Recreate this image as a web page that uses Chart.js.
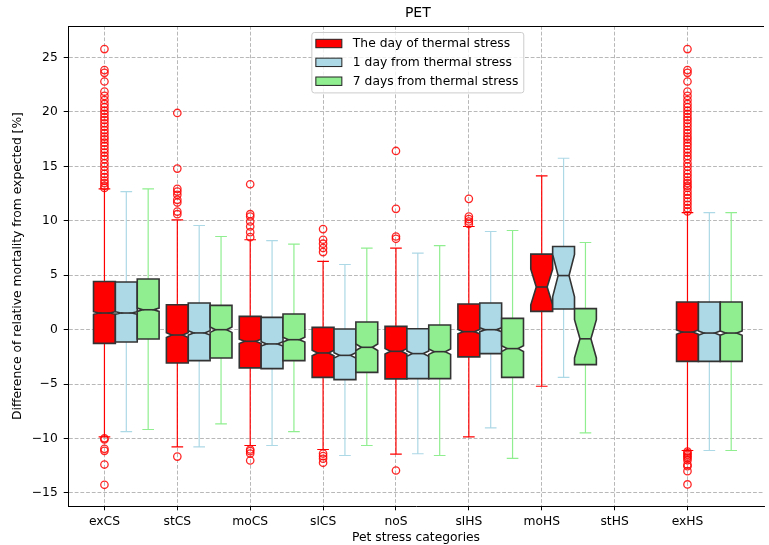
<!DOCTYPE html>
<html>
<head>
<meta charset="utf-8">
<script src="https://cdn.jsdelivr.net/npm/chart.js@4.4.0/dist/chart.umd.min.js"></script>
<style>
  html, body { margin: 0; padding: 0; background: #ffffff; }
  #wrap { width: 769px; height: 545px; }
</style>
</head>
<body>
<div id="wrap"><canvas id="chart" width="769" height="545"></canvas></div>
<script>
// ---- categories, series and tick labels ----
const categories = ['exCS', 'stCS', 'moCS', 'slCS', 'noS', 'slHS', 'moHS', 'stHS', 'exHS'];
const seriesLabels = ['The day of thermal stress', '1 day from thermal stress', '7 days from thermal stress'];
const seriesColors = ['#ff0000', '#add8e6', '#90ee90'];
const seriesOffsets = [0, 0.3, 0.6];
const yTickValues = [-15, -10, -5, 0, 5, 10, 15, 20, 25];

// ---- box statistics: the day of thermal stress ----
const dayQ1    = [-1.26, -3.06, -3.51, -4.38, -4.52, -2.50, 1.68, null, -2.91];
const dayMed   = [ 1.53, -0.49, -1.07, -2.14, -1.99, -0.18, 3.92, null, -0.22];
const dayQ3    = [ 4.43,  2.29,  1.22,  0.21,  0.30,  2.36, 6.94, null,  2.54];
const dayLow   = [-9.84, -10.76, -10.64, -11.01, -11.44, -9.84, -5.20, null, -11.10];
const dayHigh  = [12.94, 10.09,  8.26,  6.28,  7.50,  9.48, 14.13, null, 10.76];
const dayNotch = [ 0.12,  0.22,  0.20,  0.25,  0.25,  0.20, 1.64, null,  0.20];

// ---- box statistics: 1 day from thermal stress ----
const oneDayQ1    = [-1.13, -2.84, -3.58, -4.59, -4.50, -2.20, 1.90, null, -2.91];
const oneDayMed   = [ 1.53, -0.30, -1.31, -2.36, -2.20,  0.00, 4.97, null, -0.31];
const oneDayQ3    = [ 4.38,  2.45,  1.13,  0.06,  0.09,  2.45, 7.64, null,  2.54];
const oneDayLow   = [-9.36, -10.76, -10.64, -11.56, -11.40, -9.02, -4.38, null, -11.10];
const oneDayHigh  = [12.69,  9.57,  8.19,  5.99,  7.04,  9.02, 15.75, null, 10.76];
const oneDayNotch = [ 0.12,  0.20,  0.20,  0.25,  0.25,  0.18, 1.95, null,  0.20];

// ---- box statistics: 7 days from thermal stress ----
const sevenDayQ1    = [-0.85, -2.60, -2.84, -3.92, -4.50, -4.38, -3.21, null, -2.91];
const sevenDayMed   = [ 1.83,  0.00, -0.92, -1.62, -2.02, -1.74, -0.84, null, -0.31];
const sevenDayQ3    = [ 4.65,  2.23,  1.44,  0.71,  0.43,  1.04,  1.93, null,  2.54];
const sevenDayLow   = [-9.17, -8.65, -9.36, -10.64, -11.56, -11.83, -9.48, null, -11.10];
const sevenDayHigh  = [12.94,  8.56,  7.86,  7.50,  7.73,  9.11,  8.01, null, 10.76];
const sevenDayNotch = [ 0.15,  0.25,  0.22,  0.30,  0.25,  0.27,  1.76, null,  0.20];

// ---- outliers of the day-of-stress series, one list per category ----
const fliersExCS = [25.78, 23.85, 23.60, 22.80, 21.87, 21.48, 21.10, 20.74, 20.43, 20.12, 19.82, 19.52,
  19.26, 18.96, 18.66, 18.34, 18.05, 17.74, 17.49, 17.18, 16.88, 16.57, 16.27, 15.96, 15.66, 15.29,
  14.98, 14.62, 14.31, 14.01, 13.70, 13.46, 13.21, 13.02, -9.98, -10.09, -10.95, -11.13, -12.39, -14.25];
const fliersStCS = [19.91, 14.80, 12.94, 12.69, 12.39, 11.93, 11.68, 10.85, 10.61, -11.66];
const fliersMoCS = [13.36, 10.61, 10.40, 9.94, 9.48, 8.96, 8.50, -11.01, -11.16, -11.38, -12.02];
const fliersSlCS = [9.24, 8.26, 7.90, 7.50, 7.13, -11.38, -11.62, -11.86, -12.23];
const fliersNoS  = [16.42, 11.10, 8.56, 8.35, -12.94];
const fliersSlHS = [12.02, 10.40, 10.16, 9.94, 9.72];
const fliersMoHS = [];
const fliersStHS = [];
const fliersExHS = [25.78, 23.85, 23.60, 22.80, 21.87, 21.48, 21.10, 20.74, 20.43, 20.12, 19.82, 19.52,
  19.26, 18.96, 18.66, 18.34, 18.05, 17.74, 17.49, 17.18, 16.88, 16.57, 16.27, 15.96, 15.66, 15.29,
  14.98, 14.62, 14.31, 14.01, 13.70, 13.46, 13.21, 13.02, 12.69, 12.39, 12.08, 11.77, 11.47, 11.16, 10.86,
  -11.20, -11.35, -11.50, -11.65, -11.80, -12.00, -12.40, -12.55, -13.00, -14.22];
const fliersByCategory = [fliersExCS, fliersStCS, fliersMoCS, fliersSlCS, fliersNoS, fliersSlHS, fliersMoHS, fliersStHS, fliersExHS];

// ---- drawing setup ----
const FONT = '"DejaVu Sans", "Liberation Sans", sans-serif';
const FONT_SIZE = 12.3;
const BOX_WIDTH = 0.3;
const CAP_WIDTH = 0.16;
const X_MIN = 0.5, X_MAX = 10.05, X_AXES_END = 10.1;
const Y_MIN = -16.2, Y_MAX = 27.9;

const boxSeries = [
  { q1: dayQ1, med: dayMed, q3: dayQ3, lo: dayLow, hi: dayHigh, notch: dayNotch },
  { q1: oneDayQ1, med: oneDayMed, q3: oneDayQ3, lo: oneDayLow, hi: oneDayHigh, notch: oneDayNotch },
  { q1: sevenDayQ1, med: sevenDayMed, q3: sevenDayQ3, lo: sevenDayLow, hi: sevenDayHigh, notch: sevenDayNotch }
];

const flierPoints = [];
fliersByCategory.forEach((list, i) => list.forEach(v => flierPoints.push({ x: i + 1 + seriesOffsets[0], y: v })));

// Notched boxes, whiskers and caps, drawn through the chart's scales
const notchedBoxes = {
  id: 'notchedBoxes',
  beforeDatasetsDraw(chart) {
    const { ctx, chartArea: a } = chart;
    const xs = chart.scales.x, ys = chart.scales.y;
    ctx.save();
    ctx.beginPath();
    ctx.rect(a.left, a.top, a.right - a.left, a.bottom - a.top);
    ctx.clip();
    boxSeries.forEach((s, si) => {
      const color = seriesColors[si];
      categories.forEach((cat, i) => {
        if (s.q1[i] == null) return;
        const pos = i + 1 + seriesOffsets[si];
        const cx = xs.getPixelForValue(pos);
        const left = xs.getPixelForValue(pos - BOX_WIDTH / 2);
        const right = xs.getPixelForValue(pos + BOX_WIDTH / 2);
        const inL = xs.getPixelForValue(pos - BOX_WIDTH / 4);
        const inR = xs.getPixelForValue(pos + BOX_WIDTH / 4);
        const capL = xs.getPixelForValue(pos - CAP_WIDTH / 2);
        const capR = xs.getPixelForValue(pos + CAP_WIDTH / 2);
        const yQ1 = ys.getPixelForValue(s.q1[i]);
        const yQ3 = ys.getPixelForValue(s.q3[i]);
        const yMed = ys.getPixelForValue(s.med[i]);
        const yNLo = ys.getPixelForValue(s.med[i] - s.notch[i]);
        const yNHi = ys.getPixelForValue(s.med[i] + s.notch[i]);
        const yLo = ys.getPixelForValue(s.lo[i]);
        const yHi = ys.getPixelForValue(s.hi[i]);

        // whiskers and caps
        ctx.strokeStyle = color;
        ctx.lineWidth = 1.2;
        ctx.setLineDash([]);
        ctx.beginPath();
        ctx.moveTo(cx, yQ3); ctx.lineTo(cx, yHi);
        ctx.moveTo(capL, yHi); ctx.lineTo(capR, yHi);
        ctx.moveTo(cx, yQ1); ctx.lineTo(cx, yLo);
        ctx.moveTo(capL, yLo); ctx.lineTo(capR, yLo);
        ctx.stroke();

        // notched box
        ctx.beginPath();
        ctx.moveTo(left, yQ1);
        ctx.lineTo(left, yNLo);
        ctx.lineTo(inL, yMed);
        ctx.lineTo(left, yNHi);
        ctx.lineTo(left, yQ3);
        ctx.lineTo(right, yQ3);
        ctx.lineTo(right, yNHi);
        ctx.lineTo(inR, yMed);
        ctx.lineTo(right, yNLo);
        ctx.lineTo(right, yQ1);
        ctx.closePath();
        ctx.fillStyle = color;
        ctx.fill();
        ctx.strokeStyle = '#333333';
        ctx.lineWidth = 1.6;
        ctx.lineJoin = 'miter';
        ctx.stroke();

        // median
        ctx.beginPath();
        ctx.moveTo(inL, yMed); ctx.lineTo(inR, yMed);
        ctx.strokeStyle = '#333333';
        ctx.lineWidth = 1.6;
        ctx.stroke();
      });
    });
    ctx.restore();
  }
};

// Top spine, title and the legend box inside the plot
const frameTitleLegend = {
  id: 'frameTitleLegend',
  afterDraw(chart) {
    const { ctx, chartArea: a } = chart;
    const xs = chart.scales.x;
    const axesLeft = xs.getPixelForValue(X_MIN);
    const axesRight = xs.getPixelForValue(X_AXES_END);
    const center = (axesLeft + axesRight) / 2;
    ctx.save();

    // top spine
    ctx.strokeStyle = '#000000';
    ctx.lineWidth = 1;
    ctx.beginPath();
    ctx.moveTo(a.left, Math.round(a.top) + 0.5);
    ctx.lineTo(a.right, Math.round(a.top) + 0.5);
    ctx.stroke();

    // title
    ctx.fillStyle = '#000000';
    ctx.font = '14px ' + FONT;
    ctx.textAlign = 'center';
    ctx.textBaseline = 'middle';
    ctx.fillText('PET', center, 13.5);

    // legend
    ctx.font = FONT_SIZE + 'px ' + FONT;
    const textW = Math.max(...seriesLabels.map(t => ctx.measureText(t).width));
    const padL = 4, handleW = 26, handleH = 8.4, gap = 11, padR = 5.5;
    const w = padL + handleW + gap + textW + padR;
    const h = 60.4;
    const x0 = center - w / 2;
    const y0 = a.top + 6.5;
    const r = 2.5;
    ctx.beginPath();
    ctx.moveTo(x0 + r, y0);
    ctx.lineTo(x0 + w - r, y0);
    ctx.quadraticCurveTo(x0 + w, y0, x0 + w, y0 + r);
    ctx.lineTo(x0 + w, y0 + h - r);
    ctx.quadraticCurveTo(x0 + w, y0 + h, x0 + w - r, y0 + h);
    ctx.lineTo(x0 + r, y0 + h);
    ctx.quadraticCurveTo(x0, y0 + h, x0, y0 + h - r);
    ctx.lineTo(x0, y0 + r);
    ctx.quadraticCurveTo(x0, y0, x0 + r, y0);
    ctx.closePath();
    ctx.fillStyle = 'rgba(255,255,255,0.8)';
    ctx.fill();
    ctx.strokeStyle = '#cccccc';
    ctx.lineWidth = 1;
    ctx.stroke();

    ctx.textAlign = 'left';
    ctx.textBaseline = 'middle';
    seriesLabels.forEach((label, k) => {
      const rowY = y0 + 11 + k * 18.85;
      ctx.fillStyle = seriesColors[k];
      ctx.fillRect(x0 + padL, rowY - handleH / 2, handleW, handleH);
      ctx.strokeStyle = '#222222';
      ctx.lineWidth = 1;
      ctx.strokeRect(x0 + padL, rowY - handleH / 2, handleW, handleH);
      ctx.fillStyle = '#000000';
      ctx.fillText(label, x0 + padL + handleW + gap, rowY + 0.5);
    });
    ctx.restore();
  }
};

Chart.defaults.font.family = FONT;
Chart.defaults.font.size = FONT_SIZE;
Chart.defaults.color = '#000000';

const gridStyle = {
  color: '#b0b0b0',
  lineWidth: 0.9,
  tickColor: '#000000',
  tickLength: 4.3,
  tickWidth: 1,
  tickBorderDash: [],
  drawTicks: true
};

new Chart(document.getElementById('chart'), {
  type: 'scatter',
  data: {
    datasets: [{
      label: seriesLabels[0],
      data: flierPoints,
      pointStyle: 'circle',
      pointRadius: 3.7,
      pointHoverRadius: 3.7,
      pointBorderWidth: 1.3,
      pointBackgroundColor: 'rgba(255,255,255,0)',
      pointBorderColor: 'rgba(255,0,0,0.85)'
    }]
  },
  options: {
    responsive: false,
    animation: false,
    events: [],
    layout: { padding: { top: 26, right: 0, left: 0, bottom: 0 } },
    plugins: {
      legend: { display: false },
      title: { display: false },
      tooltip: { enabled: false }
    },
    scales: {
      x: {
        type: 'linear',
        min: X_MIN,
        max: X_MAX,
        afterBuildTicks: (scale) => { scale.ticks = categories.map((c, i) => ({ value: i + 1 })); },
        afterFit: (scale) => { scale.height = 39; },
        ticks: {
          autoSkip: false,
          maxRotation: 0,
          padding: 4,
          callback: (v) => categories[Math.round(v) - 1] || ''
        },
        grid: gridStyle,
        border: { display: true, color: '#000000', width: 1, dash: [3.8, 1.9] },
        title: {
          display: true,
          text: 'Pet stress categories',
          font: { size: FONT_SIZE, lineHeight: 1.0 },
          padding: { top: 0, bottom: 1 }
        }
      },
      y: {
        type: 'linear',
        min: Y_MIN,
        max: Y_MAX,
        afterBuildTicks: (scale) => { scale.ticks = yTickValues.map(v => ({ value: v })); },
        afterFit: (scale) => { scale.width = 68; },
        ticks: {
          padding: 6,
          callback: (v) => String(v).replace('-', '\u2212')
        },
        grid: gridStyle,
        border: { display: true, color: '#000000', width: 1, dash: [3.8, 1.9] },
        title: {
          display: true,
          text: 'Difference of relative mortality from expected [%]',
          font: { size: FONT_SIZE, lineHeight: 1.0 },
          padding: { top: 12, bottom: 0 }
        }
      }
    }
  },
  plugins: [notchedBoxes, frameTitleLegend]
});
</script>
</body>
</html>
